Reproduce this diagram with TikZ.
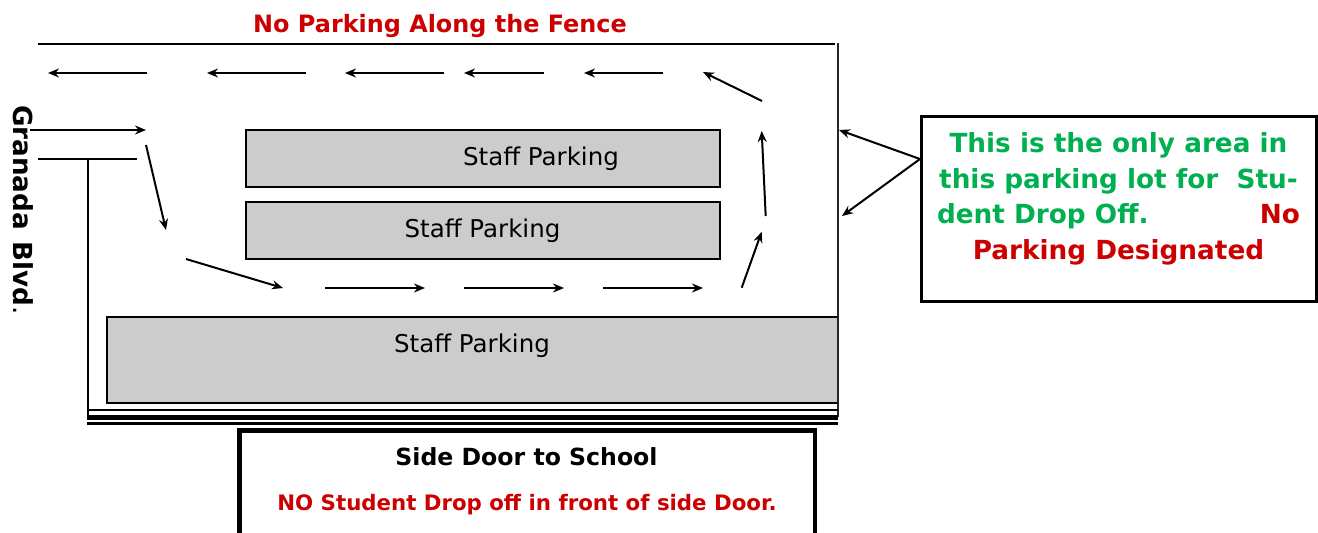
\documentclass[tikz,border=0pt]{standalone}
\usepackage{fontspec}
\setmainfont{DejaVu Sans}
\usetikzlibrary{arrows.meta}
\definecolor{lotred}{HTML}{CC0000}
\definecolor{lotgreen}{HTML}{00B050}
\definecolor{lotgray}{HTML}{CCCCCC}
\tikzset{
  flow/.style={draw=black,line width=2pt,-{Stealth[length=11pt,width=9pt]}},
  wall/.style={draw=black,line width=2.8pt},
  parking/.style={draw=black,line width=2.8pt,fill=lotgray,anchor=north west,inner sep=0pt,outer sep=0pt},
  plabel/.style={font=\fontsize{24.5}{29}\selectfont,inner sep=0pt},
  redlabel/.style={font=\fontsize{23.9}{28}\selectfont\bfseries,text=lotred,inner sep=0pt},
}
\begin{document}
\begin{tikzpicture}[x=1pt,y=-1pt]
\useasboundingbox (0,0) rectangle (1318,533);
% structural lines
\coordinate (tl) at (38,44); \coordinate (tr) at (835,44);
\coordinate (rt) at (838,43); \coordinate (rb) at (838,417);
\coordinate (sl) at (38,159); \coordinate (sr) at (137,159);
\coordinate (lt) at (88,159); \coordinate (lb) at (88,417);
\coordinate (b1l) at (88,410); \coordinate (b1r) at (838,410);
\coordinate (b2l) at (87,417.5); \coordinate (b2r) at (838,417.5);
\coordinate (b3l) at (87,423.7); \coordinate (b3r) at (838,423.7);
% parking blocks
\node[parking,minimum width=474pt,minimum height=57pt] (p1) at (246,130) {};
\node[parking,minimum width=474pt,minimum height=57pt] (p2) at (246,202) {};
\node[parking,minimum width=731pt,minimum height=86pt] (p3) at (107,317) {};
\draw[wall] (tl) -- (tr);
\draw[line width=2.8pt,draw=black!85] (rt) -- (rb);
\draw[wall] (sl) -- (sr);
\draw[wall] (lt) -- (lb);
\draw[wall] (b1l) -- (b1r);
\draw[line width=5pt] (b2l) -- (b2r);
\draw[line width=2.8pt] (b3l) -- (b3r);
% labels
\node[plabel] (s1) at (541,159) {Staff Parking};
\node[plabel] (s2) at (482.5,231) {Staff Parking};
\node[plabel] (s3) at (472,346) {Staff Parking};
\node[redlabel] (fence) at (440,26) {No Parking Along the Fence};
\node[font=\fontsize{26.2}{29}\selectfont\bfseries,rotate=-90,inner sep=0pt] (road) at (23,210) {Granada\hspace{12pt}Blvd\textmd{.}};
% flow arrows
\foreach \n/\ax/\ay/\bx/\by in {
  a/147/73/48/73, b/306/73/207/73, c/444/73/345/73, d/544/73/464/73, e/663/73/584/73,
  f/762/101/703/72, g/765.7/216/761.7/131, h/741.7/287.7/761.7/231.7,
  i/325/288/425/288, j/464/288/564/288, k/603/288/703/288,
  l/186/259/283/288, m/146/145/166/230, n/30/130/146/130}{
  \coordinate (\n0) at (\ax,\ay);
  \coordinate (\n1) at (\bx,\by);
  \draw[flow] (\n0) -- (\n1);
}
% note box
\node[draw=black,line width=3pt,minimum width=395pt,minimum height=185pt,anchor=north west,inner sep=0pt,outer sep=0pt] (note) at (921,116) {};
\node[font=\fontsize{26.3}{35.5}\selectfont\bfseries,align=center,text=lotgreen,inner sep=0pt,anchor=north] (notetext) at (1118.5,132.5) {This is the only area in\\this parking lot for\ \ Stu-\\\makebox[363pt]{dent Drop Off.\hfill\textcolor{lotred}{No}}\\\textcolor{lotred}{Parking Designated}};
\coordinate (na) at (920,159);
\coordinate (nb) at (839,130);
\coordinate (nc) at (842,216);
\draw[flow] (na) -- (nb);
\draw[flow] (na) -- (nc);
% door box
\coordinate (d1) at (239.5,540); \coordinate (d2) at (239.5,430.5); \coordinate (d3) at (815,430.5); \coordinate (d4) at (815,540);
\draw[line width=4.6pt] (d1) -- (d2) -- (d3) -- (d4);
\node[font=\fontsize{23.6}{29}\selectfont\bfseries,inner sep=0pt] (door) at (526.5,457) {Side Door to School};
\node[font=\fontsize{21.3}{25}\selectfont\bfseries,text=lotred,inner sep=0pt] (nodrop) at (527,504.5) {NO Student Drop off in front of side Door.};
\end{tikzpicture}
\end{document}
